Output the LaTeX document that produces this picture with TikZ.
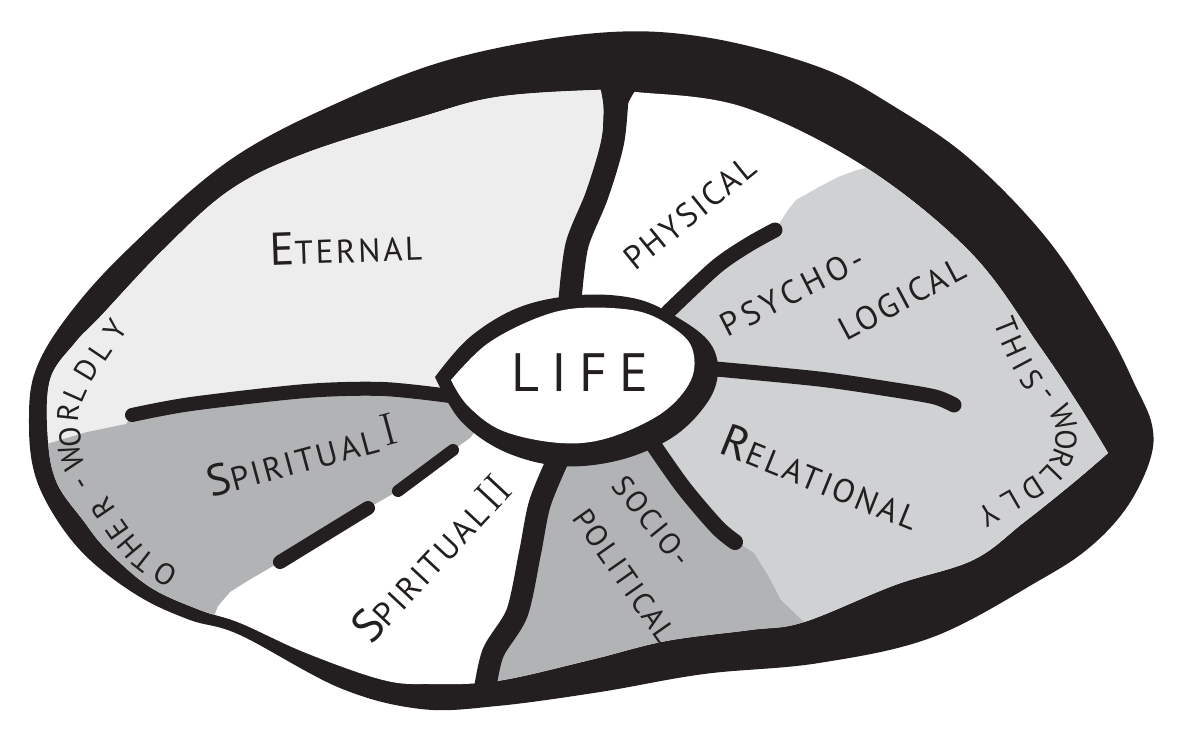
\documentclass[tikz,border=0pt]{standalone}
\usepackage{fontspec}
\usepackage{xcolor}
\usepackage{tikz}

\newfontfamily\hand[LetterSpace=8]{PT Sans}
\definecolor{ink}{HTML}{231F20}
\definecolor{paleshade}{HTML}{EDEDEE}
\definecolor{midshade}{HTML}{D0D1D3}
\definecolor{darkshade}{HTML}{B2B3B5}

% inner edge of the black rim
\newcommand\innerrim{plot[smooth, tension=0.6] coordinates {(1108,453) (1073,483) (1023,523) (973,560) (895,585) (804,622) (750,630) (666,641) (590,660) (497,681) (430,684) (383,680) (306,653) (240,623) (200,610) (150,587) (107,550) (83,520) (57,483) (48,440) (50,380) (75,343) (100,317) (163,250) (230,190) (306,153) (421,117) (497,97) (597,90) (636,92) (743,107) (865,167) (971,253) (1040,347) (1080,407) (1108,453)} -- cycle}

\begin{document}
\begin{tikzpicture}[x=1pt, y=-1pt,
  spoke/.style={draw=ink, line width=#1pt, line cap=round, line join=round},
  lbl/.style={text=ink, inner sep=0pt, font={\hand\fontsize{33}{33}\selectfont}},
  small lbl/.style={lbl, font={\hand\fontsize{30}{30}\selectfont}}]
  \useasboundingbox (0,0) rectangle (1188,751);

  % Black rim
  \fill[ink] plot[smooth cycle, tension=0.6] coordinates {(29,425) (35,372) (67,317) (127,250) (230,160) (344,100) (459,57) (597,33) (704,37) (819,67) (895,107) (971,160) (1048,240) (1107,330) (1135,385) (1152,425) (1150,460) (1127,507) (1090,547) (1040,580) (933,637) (819,663) (704,674) (600,692) (497,706) (421,709) (340,688) (240,635) (190,620) (140,597) (90,560) (57,520) (35,475)};
  \fill[white] \innerrim;

  % Shaded sectors
  \begin{scope}
    \clip \innerrim;
    \fill[paleshade] (0,0) -- (620,0) -- (618,92) -- (613,140) -- (597,195) -- (577,245) -- (570,300) -- (580,375) -- (445,396) -- (383,389) -- (306,391) -- (191,404) -- (132,415) -- (126,424) -- (87,432) -- (50,443) -- (0,452) -- cycle;
    \fill[midshade] (668,312) -- (716,267) -- (748,245) -- (777,227) -- (788,210) -- (796,200) -- (819,187) -- (838,177) -- (857,170) -- (874,166) -- (900,80) -- (1188,0) -- (1188,751) -- (840,751) -- (804,622) -- (781,600) -- (769,577) -- (754,553) -- (739,543) -- (717,527) -- (683,487) -- (650,440) -- (580,375) -- cycle;
    \fill[darkshade] (580,375) -- (650,440) -- (683,487) -- (717,527) -- (739,543) -- (754,553) -- (769,577) -- (781,600) -- (804,622) -- (840,751) -- (470,751) -- (484,695) -- (493,653) -- (517,613) -- (530,553) -- (540,503) -- (560,460) -- cycle;
    \fill[darkshade] (0,452) -- (50,443) -- (87,432) -- (126,424) -- (132,415) -- (191,404) -- (306,391) -- (383,389) -- (445,396) -- (480,405) -- (475,432) -- (470,438) -- (453,450) -- (398,491) -- (368,508) -- (280,562) -- (249,580) -- (230,592) -- (218,606) -- (205,640) -- (0,700) -- cycle;
  \end{scope}

  % Spokes
  \fill[ink] (600,86) .. controls (604,105) .. (603,128) -- (624,128) .. controls (626,105) .. (638,86) -- cycle;
  \draw[spoke=23] plot[smooth] coordinates {(618,80) (613,140) (597,195) (577,245) (570,300)};
  \draw[spoke=15] plot[smooth] coordinates {(668,312) (716,267) (748,245) (775,230)};
  \draw[spoke=15] plot[smooth] coordinates {(705,368) (819,379) (895,390) (935,397) (954,405)};
  \draw[spoke=16] plot[smooth] coordinates {(650,440) (683,487) (717,527) (735,542)};
  \draw[spoke=22] plot[smooth] coordinates {(560,455) (540,503) (530,553) (517,613) (493,653) (484,695)};
  \draw[spoke=14] plot[smooth] coordinates {(450,396) (383,389) (306,391) (191,404) (132,415)};
  \draw[spoke=12] (453,450) -- (398,491);
  \draw[spoke=14] (368,508) -- (280,562);

  % Life
  \fill[ink] plot[smooth, tension=0.6] coordinates {(435,377) (470,337) (520,307) (580,295) (637,299) (680,319) (710,343) (718,372) (707,403) (673,437) (620,460) (560,466) (503,451) (460,420) (435,377)} -- cycle;
  \fill[white] plot[smooth, tension=0.6] coordinates {(451,380) (487,344) (537,318) (580,308) (637,311) (672,327) (692,348) (691,380) (662,413) (608,438) (560,443) (503,431) (468,406) (451,380)} -- cycle;
  \node[lbl, font={\hand\fontsize{54}{54}\selectfont\addfontfeature{LetterSpace=22}}] (life) at (580,373) {LIFE};

  % Sector labels
  \node[lbl, rotate=2] (eternal) at (346,247) {{\fontsize{46}{46}\selectfont E}TERNAL};
  \node[lbl, rotate=39] (physical) at (690,213) {PHYSICAL};
  \node[lbl, rotate=27, font={\hand\fontsize{33}{33}\selectfont\addfontfeature{LetterSpace=14}}] (psycho) at (792,292) {PSYCHO-};
  \node[lbl, rotate=28] (logical) at (902,299) {LOGICAL};
  \node[lbl, rotate=-22] (relational) at (821,477) {{\fontsize{46}{46}\selectfont R}ELATIONAL};
  \node[small lbl, rotate=-51] (socio) at (652,521) {SOCIO-};
  \node[small lbl, rotate=-55] (political) at (625,576) {POLITICAL};
  \node[lbl, rotate=15] (spiritI) at (302,455) {{\fontsize{44}{44}\selectfont S}PIRITUAL\hspace{6pt}\raisebox{4pt}{\rmfamily\fontsize{46}{46}\selectfont I}};
  \node[lbl, rotate=47] (spiritII) at (431,558) {{\fontsize{46}{46}\selectfont S}PIRITUAL\hspace{4pt}{\rmfamily\fontsize{44}{44}\selectfont II}};

  % Rim labels, letter by letter
  \foreach \ch/\px/\py/\ang [count=\i] in {O/165/574/149, T/143/561/142, H/130/547/130, E/117/530/125, R/103/508/124, -/85/482/122, W/72/458/108, O/70/437/95, R/68/413/84, L/75/393/66, D/87/370/59, L/100/351/56, Y/115/330/57}
    \node[small lbl, rotate=\ang] (other\i) at (\px,\py) {\ch};
  \foreach \ch/\px/\py/\ang [count=\i] in {T/1006/326/-68, H/1014/346/-66, I/1023/364/-62, S/1032/380/-54, -/1046/396/-51, W/1063/418/-66, O/1066/440/-91, R/1062/459/-112, L/1052/475/-134, D/1033/489/-147, L/1011/501/-150, Y/989/515/-149}
    \node[small lbl, rotate=\ang] (this\i) at (\px,\py) {\ch};
\end{tikzpicture}
\end{document}
